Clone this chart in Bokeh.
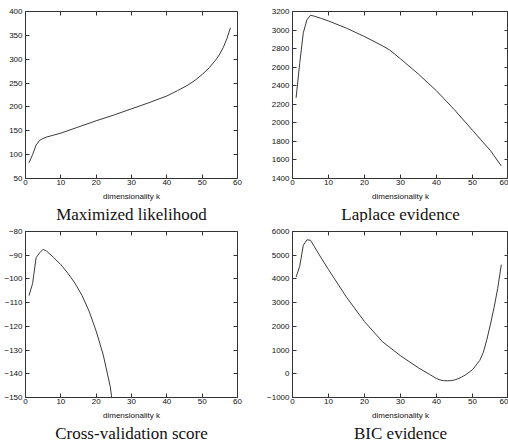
from bokeh.plotting import figure
from bokeh.layouts import gridplot
from bokeh.models import Range1d, FixedTicker, LinearAxis
from bokeh.embed import file_html
from bokeh.resources import INLINE

# ---- data ----
ml_k = [1, 2, 3, 4, 5, 6, 8, 10, 15, 20, 25, 30, 35, 40, 43, 46, 48, 50, 52, 54, 55, 56, 57, 58]
ml_v = [83, 100, 120, 130, 134, 137, 141, 145, 158, 171, 183, 196, 209, 223, 234, 246, 256, 268, 282, 300, 311, 325, 343, 366]

lap_k = [1, 2, 3, 4, 5, 6, 8, 10, 15, 20, 25, 27, 30, 35, 40, 45, 50, 55, 58]
lap_v = [2270, 2640, 2970, 3110, 3160, 3150, 3125, 3098, 3020, 2930, 2830, 2785, 2690, 2525, 2345, 2140, 1920, 1700, 1535]

cv_k = [1, 2, 3, 4, 5, 6, 8, 10, 12, 14, 16, 18, 20, 22, 24, 25]
cv_v = [-107, -102, -91, -89, -87.5, -88.3, -91, -94, -97.6, -101.8, -107, -113.6, -122, -132, -145.5, -157]

bic_k = [1, 2, 3, 4, 5, 6, 8, 10, 15, 20, 25, 30, 35, 38, 40, 41, 42, 43, 44, 45, 46, 47, 48, 50, 52, 53, 54, 55, 56, 57, 58]
bic_v = [4080, 4530, 5420, 5650, 5630, 5380, 4875, 4395, 3230, 2200, 1350, 760, 250, -20, -200, -260, -290, -295, -290, -260, -210, -140, -50, 170, 560, 900, 1450, 2100, 2800, 3600, 4600]

x_ticks = [0, 10, 20, 30, 40, 50, 60]
ml_ticks = [50, 100, 150, 200, 250, 300, 350, 400]
lap_ticks = [1400, 1600, 1800, 2000, 2200, 2400, 2600, 2800, 3000, 3200]
cv_ticks = [-150, -140, -130, -120, -110, -100, -90, -80]
cv_labels = ["\u2212150", "\u2212140", "\u2212130", "\u2212120", "\u2212110", "\u2212100", "\u221290", "\u221280"]
bic_ticks = [-1000, 0, 1000, 2000, 3000, 4000, 5000, 6000]
bic_labels = ["\u22121000", "0", "1000", "2000", "3000", "4000", "5000", "6000"]

captions = ["Maximized likelihood", "Laplace evidence", "Cross-validation score", "BIC evidence"]
xlabel = "dimensionality k"

TICK_FONT = "Liberation Sans"
CAP_FONT = "Liberation Serif"
INK = "#333333"


def style_axis(ax, labels=True):
    ax.major_tick_in = 4
    ax.major_tick_out = 0
    ax.minor_tick_in = 0
    ax.minor_tick_out = 0
    ax.axis_line_color = INK
    ax.major_tick_line_color = INK
    ax.major_label_text_font = TICK_FONT
    if labels:
        ax.major_label_text_color = "#111111"
        ax.major_label_text_font_size = "8px"
        ax.major_label_standoff = 3
    else:
        ax.major_label_text_color = None
        ax.major_label_text_font_size = "1px"
        ax.major_label_standoff = 0
        ax.axis_line_color = None


def make(kx, vy, yr, yticks, ylabels, caption, w, h, borders):
    l, r, t, b = borders
    p = figure(width=w, height=h, output_backend="svg", toolbar_location=None,
               x_range=Range1d(0, 60), y_range=Range1d(*yr),
               title=caption, title_location="below",
               min_border_left=l, min_border_right=r, min_border_top=t, min_border_bottom=b)
    p.line(kx, vy, line_color="#3a3a3a", line_width=1)
    p.xgrid.visible = False
    p.ygrid.visible = False
    p.outline_line_color = INK
    p.outline_line_width = 1
    p.background_fill_color = "white"
    p.border_fill_color = "white"
    p.title.align = "center"
    p.title.text_font = CAP_FONT
    p.title.text_font_style = "normal"
    p.title.text_font_size = "17px"
    p.title.text_line_height = 1.0
    p.title.text_color = "#111111"
    p.title.standoff = -2

    style_axis(p.xaxis[0])
    style_axis(p.yaxis[0])
    p.xaxis[0].major_label_standoff = 1
    p.xaxis[0].ticker = FixedTicker(ticks=x_ticks)
    p.yaxis[0].ticker = FixedTicker(ticks=yticks)
    if ylabels is not None:
        p.yaxis[0].major_label_overrides = {t_: s for t_, s in zip(yticks, ylabels)}
    p.xaxis[0].axis_label = xlabel
    p.xaxis[0].axis_label_text_font = TICK_FONT
    p.xaxis[0].axis_label_text_font_style = "normal"
    p.xaxis[0].axis_label_text_font_size = "8px"
    p.xaxis[0].axis_label_text_color = "#111111"
    p.xaxis[0].axis_label_standoff = 4

    # mirrored inward ticks on the top and right edges of the box
    top = LinearAxis(ticker=FixedTicker(ticks=x_ticks), fixed_location=yr[1])
    style_axis(top, labels=False)
    p.add_layout(top, "above")
    right = LinearAxis(ticker=FixedTicker(ticks=yticks), fixed_location=60)
    style_axis(right, labels=False)
    p.add_layout(right, "right")
    return p


p1 = make(ml_k, ml_v, (50, 400), ml_ticks, None, captions[0], 254, 222, (23, 17, 11, 41))
p2 = make(lap_k, lap_v, (1400, 3200), lap_ticks, None, captions[1], 254, 222, (35, 0, 11, 40))
p3 = make(cv_k, cv_v, (-150, -80), cv_ticks, cv_labels, captions[2], 254, 219, (25, 15, 9, 41))
p4 = make(bic_k, bic_v, (-1000, 6000), bic_ticks, bic_labels, captions[3], 254, 219, (38, 0, 9, 41))

grid = gridplot([[p1, p2], [p3, p4]], toolbar_location=None)

open("out.html", "w").write(file_html(grid, INLINE))
